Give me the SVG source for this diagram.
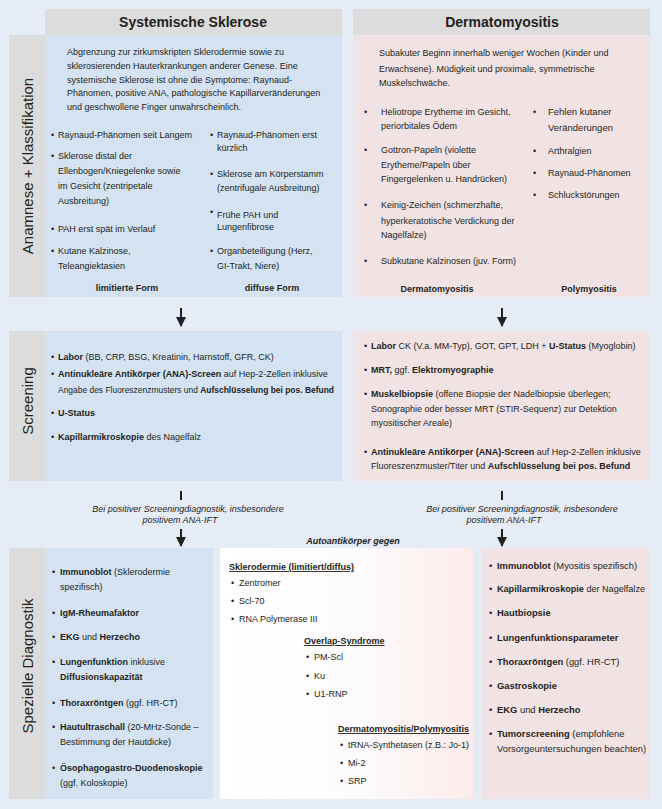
<svg xmlns="http://www.w3.org/2000/svg" width="662" height="809" viewBox="0 0 662 809">
<defs>
<style>
text{font-family:"Liberation Sans","Open Sans",sans-serif;fill:#231f20;font-size:9px}
.b{font-weight:bold}
.h{font-size:14px;font-weight:bold;text-anchor:middle}
.side{font-size:15px;text-anchor:middle}
.c{text-anchor:middle}
.i{font-style:italic}
.u{text-decoration:underline;font-weight:bold}
.grey{fill:#dcdcdc}
.blue{fill:#d5e2f2}
.pink{fill:#f1e2e4}
.line{stroke:#231f20;stroke-width:2;fill:none}
#spez-dm text{font-size:9.4px}
</style>
<linearGradient id="gw" x1="0" y1="0" x2="1" y2="0">
<stop offset="0" stop-color="#ffffff"/>
<stop offset="0.55" stop-color="#fdfbfb"/>
<stop offset="1" stop-color="#fbeceb"/>
</linearGradient>
<marker id="ah" viewBox="0 0 10 10" refX="9" refY="5" markerWidth="5" markerHeight="5.5" orient="auto" markerUnits="strokeWidth">
<path d="M0,0 L10,5 L0,10 z" fill="#231f20"/>
</marker>
</defs>
<rect width="662" height="809" fill="#e5ecf6"/>

<g id="hdr-ssc">
<rect class="grey" x="45" y="9" width="297" height="26"/>
<text class="h" x="193" y="27">Systemische Sklerose</text>
</g>
<g id="hdr-dm">
<rect class="grey" x="353" y="9" width="297" height="26"/>
<text class="h" x="502" y="27">Dermatomyositis</text>
</g>

<g id="anamnese-label">
<rect class="grey" x="9" y="35" width="36" height="262"/>
<text class="side" transform="translate(33,166) rotate(-90)">Anamnese + Klassifikation</text>
</g>

<g id="anamnese-ssc">
<rect class="blue" x="45" y="35" width="297" height="262"/>
<text x="67" y="55">Abgrenzung zur zirkumskripten Sklerodermie sowie zu</text>
<text x="67" y="69">sklerosierenden Hauterkrankungen anderer Genese. Eine</text>
<text x="67" y="83">systemische Sklerose ist ohne die Symptome: Raynaud-</text>
<text x="67" y="96">Phänomen, positive ANA, pathologische Kapillarveränderungen</text>
<text x="67" y="110">und geschwollene Finger unwahrscheinlich.</text>
<text x="51" y="138">•</text><text x="58" y="138">Raynaud-Phänomen seit Langem</text>
<text x="51" y="159">•</text><text x="58" y="159">Sklerose distal der</text>
<text x="58" y="174">Ellenbogen/Kniegelenke sowie</text>
<text x="58" y="189">im Gesicht (zentripetale</text>
<text x="58" y="204">Ausbreitung)</text>
<text x="51" y="232">•</text><text x="58" y="232">PAH erst spät im Verlauf</text>
<text x="51" y="254">•</text><text x="58" y="254">Kutane Kalzinose,</text>
<text x="58" y="269">Teleangiektasien</text>
<text x="210" y="138">•</text><text x="217" y="138">Raynaud-Phänomen erst</text>
<text x="217" y="151">kürzlich</text>
<text x="210" y="177">•</text><text x="217" y="177">Sklerose am Körperstamm</text>
<text x="217" y="191">(zentrifugale Ausbreitung)</text>
<text x="210" y="215">•</text><text x="217" y="218">Frühe PAH und</text>
<text x="217" y="230">Lungenfibrose</text>
<text x="210" y="254">•</text><text x="217" y="254">Organbeteiligung (Herz,</text>
<text x="217" y="269">GI-Trakt, Niere)</text>
<text class="b c" x="127" y="291">limitierte Form</text>
<text class="b c" x="272" y="291">diffuse Form</text>
</g>

<g id="anamnese-dm">
<rect class="pink" x="353" y="35" width="297" height="262"/>
<text x="379" y="56">Subakuter Beginn innerhalb weniger Wochen (Kinder und</text>
<text x="379" y="72">Erwachsene). Müdigkeit und proximale, symmetrische</text>
<text x="379" y="86">Muskelschwäche.</text>
<text x="364" y="115">•</text><text x="381" y="115">Heliotrope Erytheme im Gesicht,</text>
<text x="381" y="129">periorbitales Ödem</text>
<text x="364" y="153">•</text><text x="381" y="153">Gottron-Papeln (violette</text>
<text x="381" y="168">Erytheme/Papeln über</text>
<text x="381" y="182">Fingergelenken u. Handrücken)</text>
<text x="364" y="208">•</text><text x="381" y="208">Keinig-Zeichen (schmerzhafte,</text>
<text x="381" y="224">hyperkeratotische Verdickung der</text>
<text x="381" y="238">Nagelfalze)</text>
<text x="364" y="264">•</text><text x="381" y="264">Subkutane Kalzinosen (juv. Form)</text>
<text x="533" y="115">•</text><text x="548" y="115" style="font-size:9.5px">Fehlen kutaner</text>
<text x="548" y="131" style="font-size:9.5px">Veränderungen</text>
<text x="533" y="154">•</text><text x="548" y="154">Arthralgien</text>
<text x="533" y="176">•</text><text x="548" y="176">Raynaud-Phänomen</text>
<text x="533" y="198">•</text><text x="548" y="198">Schluckstörungen</text>
<text class="b c" x="437" y="292">Dermatomyositis</text>
<text class="b c" x="589" y="292">Polymyositis</text>
</g>

<g id="screening-label">
<rect class="grey" x="9" y="331" width="36" height="150"/>
<text class="side" transform="translate(33,401) rotate(-90)">Screening</text>
</g>

<g id="screening-ssc">
<rect class="blue" x="45" y="331" width="297" height="150"/>
<text x="51" y="360">•</text><text x="58" y="360"><tspan class="b">Labor</tspan> (BB, CRP, BSG, Kreatinin, Harnstoff, GFR, CK)</text>
<text x="51" y="377">•</text><text x="58" y="377"><tspan class="b">Antinukleäre Antikörper (ANA)-Screen</tspan> auf Hep-2-Zellen inklusive</text>
<text x="58" y="393" textLength="276" lengthAdjust="spacingAndGlyphs">Angabe des Fluoreszenzmusters und <tspan class="b">Aufschlüsselung bei pos. Befund</tspan></text>
<text x="51" y="416">•</text><text x="58" y="416" class="b">U-Status</text>
<text x="51" y="440">•</text><text x="58" y="440"><tspan class="b">Kapillarmikroskopie</tspan> des Nagelfalz</text>
</g>

<g id="screening-dm">
<rect class="pink" x="353" y="331" width="297" height="150"/>
<text x="364" y="349">•</text><text x="371" y="349"><tspan class="b">Labor</tspan> CK (V.a. MM-Typ), GOT, GPT, LDH + <tspan class="b">U-Status</tspan> (Myoglobin)</text>
<text x="364" y="373">•</text><text x="371" y="373"><tspan class="b">MRT,</tspan> ggf. <tspan class="b">Elektromyographie</tspan></text>
<text x="364" y="397">•</text><text x="371" y="397"><tspan class="b">Muskelbiopsie</tspan> (offene Biopsie der Nadelbiopsie überlegen;</text>
<text x="371" y="412">Sonographie oder besser MRT (STIR-Sequenz) zur Detektion</text>
<text x="371" y="426">myositischer Areale)</text>
<text x="364" y="455">•</text><text x="371" y="455"><tspan class="b">Antinukleäre Antikörper (ANA)-Screen</tspan> auf Hep-2-Zellen inklusive</text>
<text x="371" y="469">Fluoreszenzmuster/Titer und <tspan class="b">Aufschlüsselung bei pos. Befund</tspan></text>
</g>

<g id="spez-label">
<rect class="grey" x="9" y="548" width="36" height="251"/>
<text class="side" transform="translate(33,666) rotate(-90)">Spezielle Diagnostik</text>
</g>

<g id="spez-ssc">
<rect class="blue" x="45" y="548" width="168" height="251"/>
<text x="52" y="575">•</text><text x="60" y="575"><tspan class="b">Immunoblot</tspan> (Sklerodermie</text>
<text x="60" y="590">spezifisch)</text>
<text x="52" y="616">•</text><text x="60" y="616" class="b">IgM-Rheumafaktor</text>
<text x="52" y="640">•</text><text x="60" y="640"><tspan class="b">EKG</tspan> und <tspan class="b">Herzecho</tspan></text>
<text x="52" y="665">•</text><text x="60" y="665"><tspan class="b">Lungenfunktion</tspan> inklusive</text>
<text x="60" y="680" class="b">Diffusionskapazität</text>
<text x="52" y="706">•</text><text x="60" y="706"><tspan class="b">Thoraxröntgen</tspan> (ggf. HR-CT)</text>
<text x="52" y="730">•</text><text x="60" y="730"><tspan class="b">Hautultraschall</tspan> (20-MHz-Sonde –</text>
<text x="60" y="745">Bestimmung der Hautdicke)</text>
<text x="52" y="771">•</text><text x="60" y="771" class="b">Ösophagogastro-Duodenoskopie</text>
<text x="60" y="786">(ggf. Koloskopie)</text>
</g>

<g id="spez-auto">
<rect fill="url(#gw)" x="220" y="548" width="253" height="251"/>
<text class="b i c" x="353" y="544">Autoantikörper gegen</text>
<text class="u" x="229" y="570">Sklerodermie (limitiert/diffus)</text>
<text x="231" y="586">•</text><text x="239" y="586">Zentromer</text>
<text x="231" y="604">•</text><text x="239" y="604">Scl-70</text>
<text x="231" y="622">•</text><text x="239" y="622">RNA Polymerase III</text>
<text class="u" x="304" y="644">Overlap-Syndrome</text>
<text x="306" y="660">•</text><text x="314" y="660">PM-Scl</text>
<text x="306" y="679">•</text><text x="314" y="679">Ku</text>
<text x="306" y="697">•</text><text x="314" y="697">U1-RNP</text>
<text class="u" x="338" y="732">Dermatomyositis/Polymyositis</text>
<text x="340" y="748">•</text><text x="348" y="748">tRNA-Synthetasen (z.B.: Jo-1)</text>
<text x="340" y="766">•</text><text x="348" y="766">Mi-2</text>
<text x="340" y="784">•</text><text x="348" y="784">SRP</text>
</g>

<g id="spez-dm">
<rect class="pink" x="482" y="548" width="168" height="251"/>
<text x="489" y="569">•</text><text x="497" y="569"><tspan class="b">Immunoblot</tspan> (Myositis spezifisch)</text>
<text x="489" y="592">•</text><text x="497" y="592" textLength="148" lengthAdjust="spacingAndGlyphs"><tspan class="b">Kapillarmikroskopie</tspan> der Nagelfalze</text>
<text x="489" y="616">•</text><text x="497" y="616" class="b">Hautbiopsie</text>
<text x="489" y="641">•</text><text x="497" y="641" class="b">Lungenfunktionsparameter</text>
<text x="489" y="665">•</text><text x="497" y="665"><tspan class="b">Thoraxröntgen</tspan> (ggf. HR-CT)</text>
<text x="489" y="689">•</text><text x="497" y="689" class="b">Gastroskopie</text>
<text x="489" y="713">•</text><text x="497" y="713"><tspan class="b">EKG</tspan> und <tspan class="b">Herzecho</tspan></text>
<text x="489" y="737">•</text><text x="497" y="737"><tspan class="b">Tumorscreening</tspan> (empfohlene</text>
<text x="497" y="752">Vorsorgeuntersuchungen beachten)</text>
</g>

<g id="connectors">
<line class="line" x1="181" y1="308" x2="181" y2="326" marker-end="url(#ah)"/>
<line class="line" x1="502" y1="308" x2="502" y2="326" marker-end="url(#ah)"/>
<line class="line" x1="181" y1="491" x2="181" y2="500"/>
<line class="line" x1="502" y1="491" x2="502" y2="500"/>
<line class="line" x1="181" y1="529" x2="181" y2="546" marker-end="url(#ah)"/>
<line class="line" x1="502" y1="529" x2="502" y2="546" marker-end="url(#ah)"/>
<text class="i c" x="188" y="512">Bei positiver Screeningdiagnostik, insbesondere</text>
<text class="i c" x="180" y="523">positivem ANA-IFT</text>
<text class="i c" x="522" y="512">Bei positiver Screeningdiagnostik, insbesondere</text>
<text class="i c" x="504" y="523">positivem ANA-IFT</text>
</g>
</svg>
